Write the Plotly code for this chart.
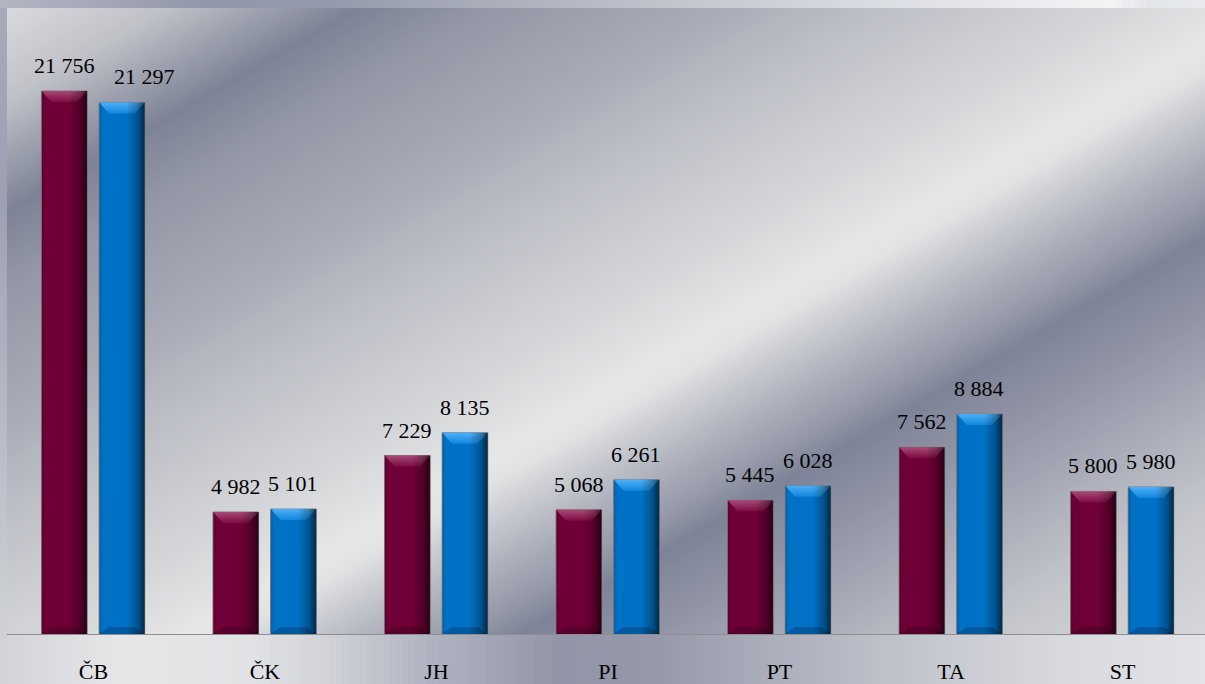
import plotly.graph_objects as go
import numpy as np

# ---------------- data ----------------
categories = ['ČB', 'ČK', 'JH', 'PI', 'PT', 'TA', 'ST']
series1_name = 'Řada 1'
series1 = [21756, 4982, 7229, 5068, 5445, 7562, 5800]
series2_name = 'Řada 2'
series2 = [21297, 5101, 8135, 6261, 6028, 8884, 5980]

# ---------------- geometry / style ----------------
W, H = 1205, 684
ML, MR, MT, MB = 7, 0, 8, 50
PW, PH = W - ML - MR, H - MT - MB
X0, X1 = -0.504, 6.481
Y0, Y1 = 120, 25060
BAR_W = 0.266
OFFS = [-0.303, 0.033]
FONT = 'Liberation Serif'

pxx = PW / (X1 - X0)      # px per x unit
pxy = PH / (Y1 - Y0)      # px per y unit


def p2d(px, py):
    return X0 + (px - ML) / pxx, Y0 + (H - MB - py) / pxy


def p2paper(px, py):
    return (px - ML) / PW, (H - MB - py) / PH


def hex2rgb(h):
    h = h.lstrip('#')
    return np.array([int(h[i:i + 2], 16) for i in (0, 2, 4)], float)


def interp(stops, u):
    us = [s[0] for s in stops]
    cs = [hex2rgb(s[1]) for s in stops]
    if u <= us[0]:
        c = cs[0]
    elif u >= us[-1]:
        c = cs[-1]
    else:
        k = np.searchsorted(us, u) - 1
        t = (u - us[k]) / (us[k + 1] - us[k])
        c = cs[k] * (1 - t) + cs[k + 1] * t
    return 'rgb(%d,%d,%d)' % tuple(np.round(c))


shapes = []

# outer (paper) background strips
bottom_stops = [(0, '#d2d4d9'), (120, '#e6e6e8'), (250, '#e1e2e5'), (330, '#d0d2d8'),
                (430, '#b0b3c0'), (560, '#9195a7'), (650, '#9498a9'), (770, '#abaebb'),
                (920, '#c4c6ce'), (1060, '#d8d9de'), (1205, '#e2e3e6')]
top_stops = [(0, '#b2b6c2'), (100, '#a4a8b8'), (200, '#9298aa'), (320, '#9399ab'),
             (480, '#a9adba'), (680, '#c2c6ce'), (880, '#dadde3'), (1040, '#ecedf1'),
             (1110, '#f3f3f5'), (1150, '#e2e5e9'), (1205, '#e8eaee')]
left_stops = [(0, '#a6aaba'), (200, '#9ca0b2'), (400, '#b4b8c4'), (634, '#cfd1d7'), (684, '#d2d4d9')]

step = 6
for a in range(0, W, step):
    xa, _ = p2paper(a, 0)
    xb, _ = p2paper(a + step + 0.5, 0)
    _, ya = p2paper(0, H - MB)
    _, yb = p2paper(0, H)
    shapes.append(dict(type='rect', xref='paper', yref='paper', x0=xa, x1=xb, y0=yb, y1=ya,
                       fillcolor=interp(bottom_stops, a + step / 2), line=dict(width=0), layer='below'))
    _, ya = p2paper(0, 0)
    _, yb = p2paper(0, MT + 0.5)
    shapes.append(dict(type='rect', xref='paper', yref='paper', x0=xa, x1=xb, y0=yb, y1=ya,
                       fillcolor=interp(top_stops, a + step / 2), line=dict(width=0), layer='below'))
for b in range(MT, H - MB, step):
    xa, ya = p2paper(0, b)
    xb, yb = p2paper(ML + 0.5, b + step + 0.5)
    shapes.append(dict(type='rect', xref='paper', yref='paper', x0=xa, x1=xb, y0=yb, y1=ya,
                       fillcolor=interp(left_stops, b + step / 2), line=dict(width=0), layer='below'))

# plot-area diagonal metallic bands (clipped to plot area)
band_stops = [(0, '#dcdde0'), (90, '#c0c2c8'), (186, '#7d8396'), (253, '#9498a6'),
              (370, '#a9acb7'), (430, '#b9bbc4'), (515, '#cbccd1'), (560, '#d3d4d7'),
              (605, '#dddee0'), (640, '#e7e7e7'), (665, '#e3e3e4'), (692, '#cdcfd4'),
              (735, '#b0b3bd'), (772, '#9a9eac'), (810, '#7e8498'), (880, '#9296a6'),
              (950, '#a9acb8'), (1040, '#c4c6cc'), (1150, '#d5d6d9'), (1260, '#dcdcde')]
nx, ny = 0.502, 0.865
dx, dy = 0.865, -0.502
T = 1800
bstep = 4
for u in np.arange(-40, 1300, bstep):
    pts = []
    for uu, t in ((u, -T), (u, T), (u + bstep + 0.8, T), (u + bstep + 0.8, -T)):
        px = uu * nx + t * dx
        py = uu * ny + t * dy
        pts.append(p2d(px, py))
    path = 'M %.4f %.2f L %.4f %.2f L %.4f %.2f L %.4f %.2f Z' % tuple(np.ravel(pts))
    shapes.append(dict(type='path', xref='x', yref='y', path=path,
                       fillcolor=interp(band_stops, u + bstep / 2), line=dict(width=0), layer='below'))

fig = go.Figure()

idx = list(range(len(categories)))
series = [(series1_name, series1), (series2_name, series2)]
face = ['#6f0037', '#0072c6']
bevel_top = [('#7d0c43', '#a84a76'), ('#1386dc', '#4cb0f7')]
bevel_bot = ['rgba(60,0,30,0.45)', 'rgba(0,50,100,0.40)']

for s, (name, vals) in enumerate(series):
    fig.add_trace(go.Bar(x=idx, y=vals, name=name, width=BAR_W, offset=OFFS[s],
                         marker=dict(color=face[s], line=dict(color='rgba(125,125,125,0.9)', width=1)),
                         showlegend=False, hoverinfo='skip'))

bh = 11 / pxy
bb = 7 / pxy
ins = 10 / pxx
for s, (name, vals) in enumerate(series):
    for i, v in zip(idx, vals):
        xl = i + OFFS[s]
        xr = xl + BAR_W
        # top bevel
        fig.add_trace(go.Scatter(x=[xl, xr, xr - ins, xl + ins, xl], y=[v, v, v - bh, v - bh, v],
                                 fill='toself', mode='lines', line=dict(width=0),
                                 fillgradient=dict(type='vertical',
                                                   colorscale=[[0, bevel_top[s][0]], [1, bevel_top[s][1]]]),
                                 showlegend=False, hoverinfo='skip'))
        # bottom bevel
        fig.add_trace(go.Scatter(x=[xl, xr, xr - ins, xl + ins, xl], y=[Y0, Y0, Y0 + bb, Y0 + bb, Y0],
                                 fill='toself', mode='lines', line=dict(width=0),
                                 fillcolor=bevel_bot[s], showlegend=False, hoverinfo='skip'))
        # side shading
        fig.add_trace(go.Scatter(x=[xl, xr, xr, xl, xl], y=[Y0, Y0, v, v, Y0],
                                 fill='toself', mode='lines', line=dict(width=0),
                                 fillgradient=dict(type='horizontal',
                                                   colorscale=[[0, 'rgba(0,0,0,0.18)'], [0.08, 'rgba(0,0,0,0)'],
                                                               [0.6, 'rgba(0,0,0,0)'], [0.85, 'rgba(0,0,0,0.28)'],
                                                               [1, 'rgba(0,0,0,0.65)']]),
                                 showlegend=False, hoverinfo='skip'))

# value labels
label_xshift = {(1, 0): 23}
annotations = []
for s, (name, vals) in enumerate(series):
    for i, v in zip(idx, vals):
        annotations.append(dict(x=i + OFFS[s] + BAR_W / 2, y=v, xref='x', yref='y',
                                text=f'{v:,}'.replace(',', '\u00a0'), showarrow=False,
                                yanchor='bottom', xanchor='center', yshift=11,
                                xshift=label_xshift.get((s, i), 0),
                                font=dict(family=FONT, size=22, color='#000000')))

fig.update_layout(
    width=W, height=H,
    margin=dict(l=ML, r=MR, t=MT, b=MB, pad=0),
    paper_bgcolor='#c8cad2', plot_bgcolor='rgba(0,0,0,0)',
    barmode='overlay', showlegend=False,
    shapes=shapes, annotations=annotations,
    xaxis=dict(range=[X0, X1], tickvals=idx, ticktext=categories, showgrid=False, zeroline=False,
               showline=True, linecolor='#8e8e8e', linewidth=1, ticks='', ticklabelstandoff=18,
               tickfont=dict(family=FONT, size=22, color='#000000'), fixedrange=True,
               automargin=False),
    yaxis=dict(range=[Y0, Y1], visible=False, showgrid=False, zeroline=False, fixedrange=True),
)

fig.write_html('out.html', config={'displayModeBar': False},
               post_script="document.body.style.margin='0';document.body.style.overflow='hidden';")
